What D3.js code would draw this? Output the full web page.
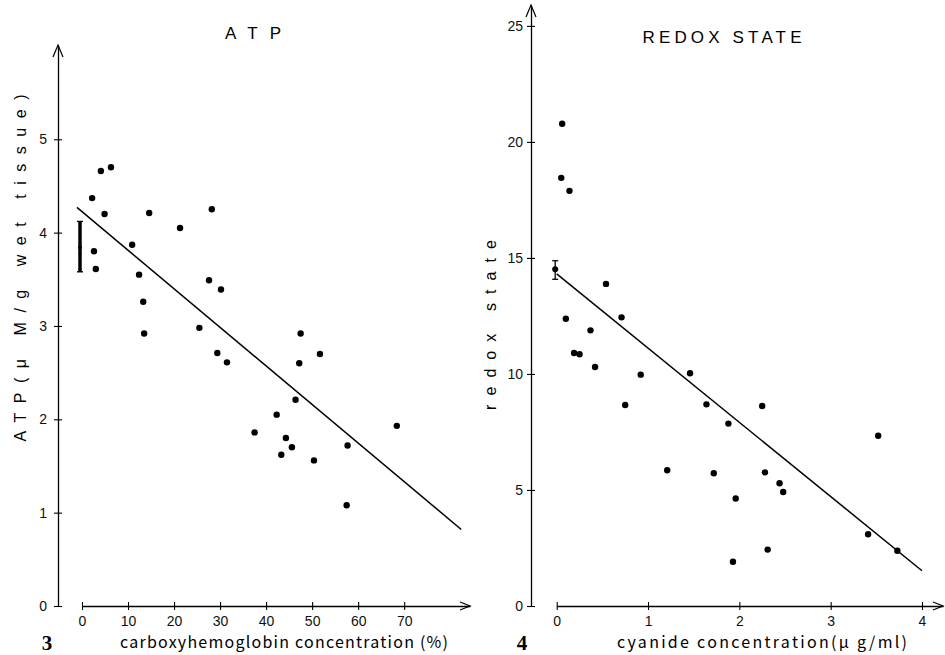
<!DOCTYPE html>
<html>
<head>
<meta charset="utf-8">
<script src="https://cdn.jsdelivr.net/npm/d3@7"></script>
<style>
  body { margin: 0; background: #fff; }
  svg { display: block; }
</style>
</head>
<body>
<script>
// ---- data ----
// panel 3: ATP vs carboxyhemoglobin
var atpCO = [2.2, 4.1, 6.3, 4.9, 14.6, 21.3, 28.2, 10.9, 2.6, 3.0, 12.4, 13.3, 27.6, 30.2,
             13.5, 25.5, 29.4, 31.5, 47.5, 51.7, 47.2, 46.4, 42.3, 37.5, 44.3, 45.6, 43.3, 50.4, 57.7, 68.4, 57.5];
var atpVal = [4.37, 4.66, 4.70, 4.20, 4.21, 4.05, 4.25, 3.87, 3.80, 3.61, 3.55, 3.26, 3.49, 3.39,
              2.92, 2.98, 2.71, 2.61, 2.92, 2.70, 2.60, 2.21, 2.05, 1.86, 1.80, 1.70, 1.62, 1.56, 1.72, 1.93, 1.08];
var atpControl = [3.84, 3.58, 4.12];       // mean, low, high at 0 %
var atpFitX = [-1.1, 82.4];
var atpFitY = [4.27, 0.82];
var atpXTicks = [0, 10, 20, 30, 40, 50, 60, 70];
var atpYTicks = [0, 1, 2, 3, 4, 5];

// panel 4: redox state vs cyanide
var cnConc = [0.06, 0.05, 0.14, 0.54, 0.10, 0.71, 0.37, 0.19, 0.25, 0.42, 0.92, 1.46, 0.75, 1.64, 2.25,
              1.88, 3.52, 1.21, 1.72, 2.28, 2.44, 2.48, 1.96, 3.41, 2.31, 3.73, 1.93];
var redoxVal = [20.78, 18.45, 17.89, 13.88, 12.38, 12.44, 11.88, 10.90, 10.85, 10.30, 9.97, 10.03, 8.66, 8.69, 8.62,
                7.86, 7.34, 5.85, 5.72, 5.76, 5.29, 4.91, 4.63, 3.09, 2.43, 2.38, 1.91];
var redoxControl = [14.51, 14.08, 14.88];
var redoxFitX = [0, 4.0];
var redoxFitY = [14.31, 1.52];
var redoxXTicks = [0, 1, 2, 3, 4];
var redoxYTicks = [0, 5, 10, 15, 20, 25];

var svg = d3.select("body").append("svg")
    .attr("width", 945)
    .attr("height", 655);

var tickFont = "'Liberation Sans Narrow', 'Liberation Sans', sans-serif";
var labelFont = "'Noto Sans CJK JP', 'DejaVu Sans', sans-serif";
var fmt = d3.format("d");

function arrowUp(g, x, y) {
    g.append("path")
        .attr("d", "M" + (x - 5) + "," + (y + 12) + "L" + x + "," + y + "L" + (x + 5) + "," + (y + 12))
        .attr("fill", "none").attr("stroke", "#000").attr("stroke-width", 1.2);
}
function arrowRight(g, x, y) {
    g.append("path")
        .attr("d", "M" + (x - 10) + "," + (y - 4) + "L" + x + "," + y + "L" + (x - 10) + "," + (y + 4))
        .attr("fill", "none").attr("stroke", "#000").attr("stroke-width", 1.2);
}

function panel(o) {
    var g = svg.append("g");

    // y axis
    var yg = g.append("g")
        .attr("transform", "translate(" + o.yAxisX + ",0)")
        .call(d3.axisLeft(o.y).tickValues(o.yTicks).tickFormat(fmt)
            .tickSizeInner(4).tickSizeOuter(0).tickPadding(o.yPad));
    yg.selectAll(".tick line").attr("x1", 4).attr("x2", -4).attr("stroke-width", 1.1);
    yg.select(".domain").attr("stroke-width", 1.3);
    yg.selectAll(".tick text")
        .attr("font-family", tickFont).attr("font-size", 14).attr("fill", "#111");
    arrowUp(g, o.yAxisX, o.y.range()[1]);

    // x axis
    var xg = g.append("g")
        .attr("transform", "translate(0," + o.y(0) + ")")
        .call(d3.axisBottom(o.x).tickValues(o.xTicks).tickFormat(fmt)
            .tickSizeInner(4).tickSizeOuter(0).tickPadding(6));
    xg.selectAll(".tick line").attr("y1", -4).attr("y2", 4).attr("stroke-width", 1.1);
    xg.select(".domain").attr("stroke-width", 1.3);
    xg.selectAll(".tick text")
        .attr("font-family", tickFont).attr("font-size", 14).attr("fill", "#111");
    arrowRight(g, o.x.range()[1], o.y(0));

    // fitted line
    var fit = d3.line()
        .x(function(d) { return o.x(d[0]); })
        .y(function(d) { return o.y(d[1]); });
    g.append("path")
        .datum(d3.zip(o.fitX, o.fitY))
        .attr("d", fit)
        .attr("fill", "none").attr("stroke", "#000").attr("stroke-width", 1.5);

    // control mean +- sd
    var c = o.control;
    var cx = o.x(0) + o.barShift;
    g.append("line")
        .attr("x1", cx).attr("x2", cx)
        .attr("y1", o.y(c[1])).attr("y2", o.y(c[2]))
        .attr("stroke", "#000").attr("stroke-width", o.barWidth);
    g.selectAll(".cap").data([c[1], c[2]]).enter().append("line")
        .attr("x1", cx - 3).attr("x2", cx + 3)
        .attr("y1", function(d) { return o.y(d); })
        .attr("y2", function(d) { return o.y(d); })
        .attr("stroke", "#000").attr("stroke-width", 1.3);
    g.append("circle")
        .attr("cx", cx).attr("cy", o.y(c[0])).attr("r", o.barDot);

    // dots
    g.selectAll(".dot")
        .data(d3.zip(o.xs, o.ys))
        .enter().append("circle")
        .attr("cx", function(d) { return o.x(d[0]); })
        .attr("cy", function(d) { return o.y(d[1]); })
        .attr("r", 3.2)
        .attr("fill", "#000");

    // labels
    g.append("text")
        .attr("x", o.title[1]).attr("y", o.title[2])
        .attr("text-anchor", "middle")
        .attr("textLength", o.title[3]).attr("lengthAdjust", "spacing")
        .attr("font-family", "'Liberation Sans', sans-serif").attr("font-size", 17)
        .text(o.title[0]);

    g.append("text")
        .attr("transform", "translate(" + o.yLab[1] + "," + o.yLab[2] + ") rotate(-90)")
        .attr("text-anchor", "middle")
        .attr("textLength", o.yLab[3]).attr("lengthAdjust", "spacing")
        .attr("font-family", "'Liberation Sans', sans-serif").attr("font-size", 16)
        .text(o.yLab[0]);

    g.append("text")
        .attr("x", o.xLab[1]).attr("y", o.xLab[2])
        .attr("text-anchor", "middle")
        .attr("textLength", o.xLab[3]).attr("lengthAdjust", "spacing")
        .attr("font-family", labelFont).attr("font-size", 16)
        .text(o.xLab[0]);

    g.append("text")
        .attr("x", o.num[1]).attr("y", 650)
        .attr("text-anchor", "middle")
        .attr("font-family", "'Liberation Serif', serif").attr("font-weight", "bold").attr("font-size", 21)
        .text(o.num[0]);
}

panel({
    x: d3.scaleLinear().domain([0, 84.3]).range([82, 470]),
    y: d3.scaleLinear().domain([0, 6.01]).range([606, 45]),
    yAxisX: 58, yPad: 7,
    xTicks: atpXTicks, yTicks: atpYTicks,
    xs: atpCO, ys: atpVal,
    fitX: atpFitX, fitY: atpFitY,
    control: atpControl, barShift: -2, barWidth: 3.5, barDot: 2,
    title: ["A T P", 253, 39, 56],
    yLab: ["ATP(\u03bc M/g wet tissue)", 26, 268, 347],
    xLab: ["carboxyhemoglobin concentration (%)", 284, 648, 328],
    num: ["3", 47]
});

panel({
    x: d3.scaleLinear().domain([0, 4.23]).range([556.7, 943]),
    y: d3.scaleLinear().domain([0, 25.9]).range([606, 5]),
    yAxisX: 531, yPad: 4,
    xTicks: redoxXTicks, yTicks: redoxYTicks,
    xs: cnConc, ys: redoxVal,
    fitX: redoxFitX, fitY: redoxFitY,
    control: redoxControl, barShift: -1.5, barWidth: 1.3, barDot: 3,
    title: ["REDOX STATE", 722, 43, 159],
    yLab: ["redox state", 496, 325, 170],
    xLab: ["cyanide concentration(\u03bc g/ml)", 762, 648, 290],
    num: ["4", 522]
});
</script>
</body>
</html>
